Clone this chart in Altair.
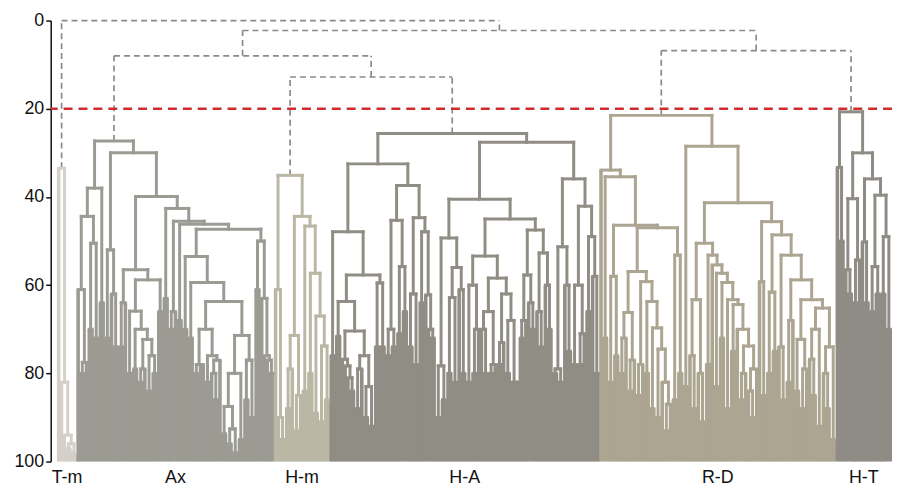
import sys
import altair as alt
import pandas as pd

sys.setrecursionlimit(10000)

# ---------------- data ----------------
CLUSTERS = ["T-m", "Ax", "H-m", "H-A", "R-D", "H-T"]

# merge level between each pair of adjacent leaves, left to right, per cluster
TM_GAPS = [33.5, 82, 94, 97, 96, 98]
AX_GAPS = [61, 80, 77.5, 44.4, 70, 50.5, 72, 38, 64, 27.3,
           72, 52, 62, 74, 30,
           74, 64, 56.5, 80, 65.9, 79, 70, 82, 79, 72.3, 84, 76, 80, 58.8, 66,
           39.9,
           63, 42.6, 70, 66, 45.5, 68, 46.2,
           70, 53.5, 72, 59.4,
           80, 78, 78, 70, 82, 76, 80, 86, 77,
           63.7,
           93.7, 87.5, 96, 92.6, 98, 80, 95, 71.4, 86, 77, 90,
           47.3,
           61, 50, 63, 76, 77, 80]
HM_GAPS = [61, 90, 95, 35.1, 88, 79, 71.4, 93, 85, 44.4, 84, 46.6, 80, 57.3,
           89, 67, 91, 73.8, 86]
HA_GAPS = [76, 47.9, 71.6, 63.7, 76.8, 78.3, 81, 84, 70.4, 88, 79, 76, 90, 83,
           92, 57.7, 74, 59.5, 74, 32.5,
           76, 70, 74, 45.3, 71, 55.8, 66, 37.4, 74, 62, 78, 44.7, 64, 47.9,
           62.2, 70, 72, 25.6,
           90, 78.3, 86, 49.3, 80, 62.8, 82, 56, 61, 80, 40.5,
           82, 60, 80, 70, 53.4, 70, 80, 66, 80, 78, 58.4, 78, 73, 62, 80, 68,
           82, 82, 45,
           72, 68, 57.7, 64, 70, 47.5, 66, 74, 52.7, 60, 70, 27.6,
           80, 79, 82, 51.3, 60, 75, 35.9, 78, 60, 78, 71, 42.1, 66, 49, 58, 80]
RD_GAPS = [33.9, 72, 35.4, 82, 58, 76, 46.4, 80, 72, 66.2, 84, 77, 56.9, 85,
           78, 59.2, 80, 63.7, 88, 69.7, 90, 74.5, 82, 93, 87, 47, 86, 53.2,
           80, 21.5,
           83, 28.5, 76, 88, 63.3, 80, 91, 50.5,
           78, 53.2, 55.4, 83, 57.3, 72, 59.4, 88, 63.3, 75, 64.4, 70, 86, 80,
           73.8, 84, 90, 79, 41.3,
           59.2, 85, 45.6, 80, 61.6, 75, 48.6, 74, 86, 53.2, 82, 68, 58.8, 84,
           72.3, 88, 79, 63.3, 76.8, 85, 70, 92, 65.2, 80, 88, 74, 95]
HT_GAPS = [33.3, 50, 20.7, 56.5, 62, 40.4, 64, 54.3, 30, 50.2, 64, 35.9, 66,
           55.8, 62, 39.6, 62, 49, 70]

# merge levels joining neighbouring clusters (above the cut)
BETWEEN_GAPS = [0.0, 8.0, 12.8, 2.25, 6.8]
CUT_LEVEL = 20
Y_TICKS = [0, 20, 40, 60, 80, 100]

CLUSTER_COLORS = ["#d4cfc8", "#9c9b93", "#bbb7a5", "#908d85", "#aca591", "#8f8c85"]

# ---------------- build the tree ----------------
cluster_gaps = [TM_GAPS, AX_GAPS, HM_GAPS, HA_GAPS, RD_GAPS, HT_GAPS]
gaps, leaf_cluster, spans = [], [], []
for ci, g in enumerate(cluster_gaps):
    start = len(leaf_cluster)
    leaf_cluster += [CLUSTERS[ci]] * (len(g) + 1)
    spans.append((CLUSTERS[ci], start, len(leaf_cluster) - 1))
    gaps += g
    if ci < len(BETWEEN_GAPS):
        gaps.append(BETWEEN_GAPS[ci])

segs = []


def build(lo, hi):
    if lo == hi:
        return float(lo), 100.0, True
    j = min(range(lo, hi), key=lambda t: gaps[t])
    lx, lh, lleaf = build(lo, j)
    rx, rh, rleaf = build(j + 1, hi)
    h = gaps[j]
    cl = "top" if h < CUT_LEVEL else leaf_cluster[lo]
    segs.append(dict(x=lx, x2=rx, y=h, y2=h, cluster=cl, leaf=False))
    segs.append(dict(x=lx, x2=lx, y=lh, y2=h, cluster=cl, leaf=lleaf))
    segs.append(dict(x=rx, x2=rx, y=rh, y2=h, cluster=cl, leaf=rleaf))
    return (lx + rx) / 2, h, False


build(0, len(gaps))
df = pd.DataFrame(segs)
solid = df[df.cluster != "top"]
solid_leaf = solid[solid.leaf]
solid_inner = solid[~solid.leaf]
dashed = df[df.cluster == "top"]
labels = pd.DataFrame([{"label": n, "x": (a + b) / 2} for n, a, b in spans])

# ---------------- chart ----------------
xs = alt.Scale(domain=[-2.857, 299.64], nice=False, zero=False)
ys = alt.Scale(domain=[0, 100], reverse=True, nice=False, zero=False)

yaxis = alt.Axis(values=Y_TICKS, title=None, grid=False, labelFontSize=18,
                 labelFont="Liberation Sans", labelColor="#111",
                 domainColor="#111", domainWidth=1.5, tickColor="#111",
                 tickWidth=1.5, tickSize=5, labelPadding=2)
cscale = alt.Scale(domain=CLUSTERS, range=CLUSTER_COLORS)

dashed_layer = alt.Chart(dashed).mark_rule(
    color="#8a8a8a", strokeWidth=1.7, strokeDash=[6, 4]
).encode(
    x=alt.X("x:Q", scale=xs, axis=None), x2="x2",
    y=alt.Y("y:Q", scale=ys, axis=yaxis), y2="y2",
)

leaf_layer = alt.Chart(solid_leaf).mark_rule(strokeWidth=3.6).encode(
    x=alt.X("x:Q", scale=xs, axis=None), x2="x2",
    y=alt.Y("y:Q", scale=ys, axis=yaxis), y2="y2",
    color=alt.Color("cluster:N", scale=cscale, legend=None),
)

inner_layer = alt.Chart(solid_inner).mark_rule(strokeWidth=3, strokeCap="square").encode(
    x=alt.X("x:Q", scale=xs, axis=None), x2="x2",
    y=alt.Y("y:Q", scale=ys, axis=yaxis), y2="y2",
    color=alt.Color("cluster:N", scale=cscale, legend=None),
)

cut_layer = alt.Chart(pd.DataFrame({"y": [CUT_LEVEL]})).mark_rule(
    color="#d22b2b", strokeWidth=2.5, strokeDash=[9, 6]
).encode(y=alt.Y("y:Q", scale=ys, axis=yaxis))

text_layer = alt.Chart(labels).mark_text(
    fontSize=18, font="Liberation Sans", baseline="middle", color="#111"
).encode(
    x=alt.X("x:Q", scale=xs, axis=None),
    y=alt.value(461),
    text="label:N",
)

chart = alt.layer(dashed_layer, leaf_layer, inner_layer, cut_layer, text_layer).properties(
    width=847, height=444,
    padding={"left": 43, "top": 11, "right": 2, "bottom": 28},
    autosize=alt.AutoSizeParams(type="none"),
).configure_view(stroke=None)

chart.save("out.html", embed_options={"renderer": "svg", "actions": False})
